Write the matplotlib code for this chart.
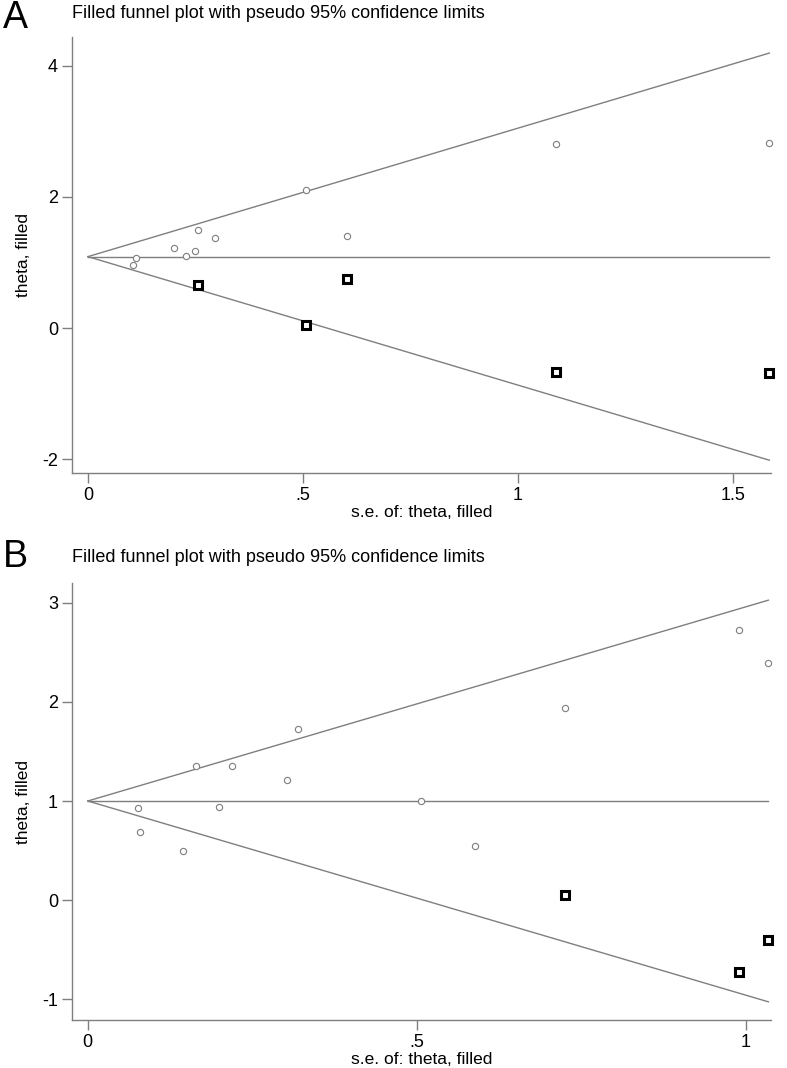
import numpy as np
import matplotlib
matplotlib.use('Agg')
import matplotlib.pyplot as plt

plt.rcParams['font.family'] = ['Liberation Sans', 'DejaVu Sans']

# panel A: observed studies
se_a = [0.105, 0.112, 0.20, 0.228, 0.25, 0.255, 0.296, 0.506, 0.603, 1.089, 1.584]
theta_a = [0.97, 1.065, 1.22, 1.105, 1.18, 1.50, 1.37, 2.10, 1.40, 2.81, 2.83]
# panel A: filled (imputed) studies
se_a_fill = [0.255, 0.506, 0.603, 1.089, 1.584]
theta_a_fill = [0.65, 0.05, 0.75, -0.67, -0.69]
pooled_a = 1.09

# panel B: observed studies
se_b = [0.077, 0.08, 0.144, 0.164, 0.199, 0.219, 0.303, 0.319, 0.506, 0.588, 0.725, 0.989, 1.034]
theta_b = [0.93, 0.69, 0.50, 1.35, 0.94, 1.35, 1.21, 1.73, 1.00, 0.545, 1.94, 2.73, 2.39]
# panel B: filled studies
se_b_fill = [0.725, 0.989, 1.034]
theta_b_fill = [0.05, -0.73, -0.40]
pooled_b = 1.0

W, H = 787, 1068
fig = plt.figure(figsize=(W / 100, H / 100), dpi=100)

gray = '#7f7f7f'


def funnel(ax, se, theta, se_f, theta_f, pooled):
    smax = max(se)
    ax.plot([0, smax], [pooled, pooled + 1.96 * smax], color=gray, lw=1)
    ax.plot([0, smax], [pooled, pooled - 1.96 * smax], color=gray, lw=1)
    ax.plot([0, smax], [pooled, pooled], color=gray, lw=1)
    ax.plot(se, theta, 'o', ls='none', mfc='white', mec=gray, ms=4.5, mew=0.8, clip_on=False)
    ax.plot(se_f, theta_f, 's', ls='none', mfc='white', mec='black', ms=5.5, mew=2.2, clip_on=False)
    for s in ['top', 'right']:
        ax.spines[s].set_visible(False)
    for s in ['left', 'bottom']:
        ax.spines[s].set_color(gray)
        ax.spines[s].set_linewidth(1)
    ax.tick_params(direction='out', length=7, width=1, color=gray, labelsize=13, pad=3)
    ax.set_ylabel('theta, filled', fontsize=12.5, labelpad=8)
    ax.set_xlabel('s.e. of: theta, filled', fontsize=12.5, labelpad=1)


def px_axes(left, top, right, bottom):
    return fig.add_axes([left / W, 1 - bottom / H, (right - left) / W, (bottom - top) / H])


# panel A
axA = px_axes(72, 37, 771, 473)
funnel(axA, se_a, theta_a, se_a_fill, theta_a_fill, pooled_a)
axA.set_xlim(-0.037, 1.588)
axA.set_ylim(-2.21, 4.44)
axA.set_xticks([0, 0.5, 1, 1.5])
axA.set_xticklabels(['0', '.5', '1', '1.5'])
axA.set_yticks([-2, 0, 2, 4])
axA.set_yticklabels(['-2', '0', '2', '4'])

# panel B
axB = px_axes(72, 583, 771, 1020)
funnel(axB, se_b, theta_b, se_b_fill, theta_b_fill, pooled_b)
axB.set_xlim(-0.024, 1.038)
axB.set_ylim(-1.21, 3.20)
axB.set_xticks([0, 0.5, 1])
axB.set_xticklabels(['0', '.5', '1'])
axB.set_yticks([-1, 0, 1, 2, 3])
axB.set_yticklabels(['-1', '0', '1', '2', '3'])

title = 'Filled funnel plot with pseudo 95% confidence limits'
fig.text(72 / W, 1 - 13 / H, title, fontsize=13, va='center', ha='left')
fig.text(72 / W, 1 - 557 / H, title, fontsize=13, va='center', ha='left')
fig.text(3 / W, 1 - 18 / H, 'A', fontsize=27, va='center', ha='left')
fig.text(3 / W, 1 - 557 / H, 'B', fontsize=27, va='center', ha='left')

fig.savefig('out.png', dpi=100)
